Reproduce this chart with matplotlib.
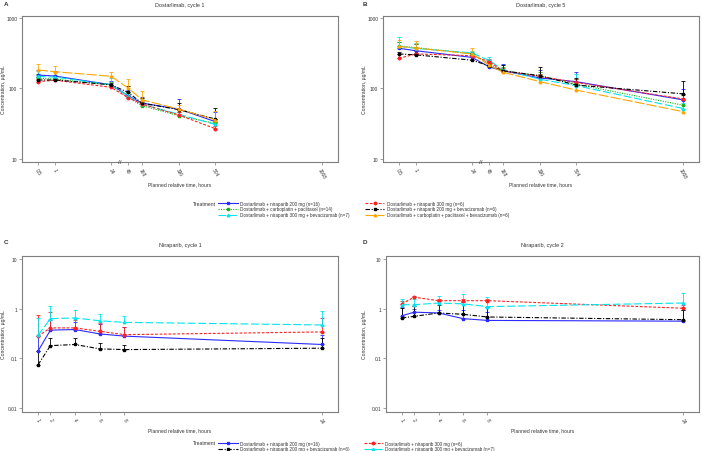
import numpy as np
import matplotlib
matplotlib.use("Agg")
import matplotlib.pyplot as plt
from matplotlib.transforms import blended_transform_factory

plt.rcParams['font.family'] = ['Liberation Sans', 'DejaVu Sans']

# ---------------- data ----------------
# dostarlimab sampling times (hours)
t_c1 = [0.5, 1, 24, 48, 168, 336, 504]
t_c5 = [0.5, 1, 24, 48, 168, 336, 504, 1008]
dost_ticks = [0.5, 1, 24, 48, 168, 336, 504, 1008]
dost_ticklabels = ['0.5', '1', '24', '48', '168', '336', '504', '1008']

# cycle 1 means / SD (ug/mL)
c1_nir200 = [155, 150, 113, 79, 62, 51, 34]
c1_nir200_sd = [25, 25, 15, 15, 14, 20, 12]
c1_cp = [140, 136, 112, 75, 57, 41, 32]
c1_cp_sd = [20, 20, 12, 10, 8, 6, 5]
c1_nir300bev = [148, 145, 113, 78, 60, 43, 31]
c1_nir300bev_sd = [30, 25, 30, 12, 10, 8, 6]
c1_nir300 = [125, 131, 104, 74, 60, 42, 27]
c1_nir300_sd = [10, 8, 6, 8, 6, 4, 2]
c1_nir200bev = [132, 132, 113, 88, 62, 50, 37]
c1_nir200bev_sd = [12, 10, 8, 20, 12, 12, 16]
c1_cpbev = [183, 173, 149, 102, 69, 51, 36]
c1_cpbev_sd = [36, 37, 21, 34, 24, 7, 12]

# cycle 5
c5_nir200 = [372, 343, 276, 203, 178, 141, 125, 69]
c5_nir200_sd = [90, 90, 40, 40, 45, 40, 45, 30]
c5_cp = [400, 380, 310, 225, 180, 150, 115, 58]
c5_cp_sd = [60, 50, 20, 30, 20, 20, 20, 10]
c5_nir300bev = [400, 370, 320, 250, 185, 135, 110, 52]
c5_nir300bev_sd = [130, 70, 20, 30, 30, 25, 50, 10]
c5_nir300 = [268, 309, 292, 240, 178, 148, 122, 71]
c5_nir300_sd = [40, 30, 20, 25, 15, 15, 15, 10]
c5_nir200bev = [309, 300, 252, 210, 178, 152, 112, 84]
c5_nir200bev_sd = [20, 20, 70, 30, 40, 50, 30, 42]
c5_cpbev = [395, 375, 310, 215, 170, 125, 95, 47]
c5_cpbev_sd = [100, 90, 60, 40, 20, 20, 15, 5]

# niraparib sampling times (hours)
t_nir = [1, 2, 4, 6, 8, 24]
nir_ticklabels = ['1', '2', '4', '6', '8', '24']

n1_nir200 = [0.14, 0.37, 0.38, 0.31, 0.28, 0.19]
n1_nir200_sd = [0.14, 0.23, 0.17, 0.17, 0.15, 0.11]
n1_nir300 = [0.28, 0.41, 0.41, 0.35, 0.30, 0.34]
n1_nir300_sd = [0.47, 0.46, 0.19, 0.17, 0.12, 0.31]
n1_nir200bev = [0.074, 0.18, 0.19, 0.155, 0.15, 0.16]
n1_nir200bev_sd = [0.066, 0.08, 0.07, 0.045, 0.035, 0.10]
n1_nir300bev = [0.29, 0.63, 0.65, 0.57, 0.53, 0.47]
n1_nir300bev_sd = [0.36, 0.49, 0.30, 0.21, 0.19, 0.41]

n2_nir200 = [0.72, 0.85, 0.82, 0.63, 0.58, 0.56]
n2_nir200_sd = [0.38, 0.15, 0.13, 0.32, 0.27, 0.39]
n2_nir300 = [1.25, 1.70, 1.45, 1.45, 1.45, 1.02]
n2_nir300_sd = [0.20, 0.10, 0.10, 0.10, 0.10, 0.18]
n2_nir200bev = [0.65, 0.70, 0.82, 0.77, 0.68, 0.60]
n2_nir200bev_sd = [0.40, 0.45, 0.38, 0.58, 0.42, 0.35]
n2_nir300bev = [1.20, 1.20, 1.30, 1.25, 1.10, 1.30]
n2_nir300bev_sd = [0.35, 0.35, 0.50, 0.75, 0.60, 0.75]

lab_nir200 = 'Dostarlimab + niraparib 200 mg (n=16)'
lab_cp = 'Dostarlimab + carboplatin + paclitaxel (n=14)'
lab_nir300bev = 'Dostarlimab + niraparib 300 mg + bevacizumab (n=7)'
lab_nir300 = 'Dostarlimab + niraparib 300 mg (n=6)'
lab_nir200bev = 'Dostarlimab + niraparib 200 mg + bevacizumab (n=6)'
lab_cpbev = 'Dostarlimab + carboplatin + paclitaxel + bevacizumab (n=6)'

# ---------------- styles ----------------
sty = {
    'nir200': dict(color='#2b2bff', ls='-', marker='s'),
    'cp': dict(color='#19b319', ls=(0, (1, 1.2)), marker='s'),
    'nir300bev': dict(color='#00e5ee', ls=(0, (7, 2.5)), marker='^'),
    'nir300': dict(color='#ff2020', ls=(0, (2.5, 1.5)), marker='o'),
    'nir200bev': dict(color='black', ls=(0, (4, 1.5, 1, 1.5)), marker='s'),
    'cpbev': dict(color='#ffa500', ls=(0, (9, 2)), marker='^'),
}
GREY = '#7f7f7f'
TXT = '#333333'
FS = 4.0


def series(ax, x, y, sd, key, label):
    s = sty[key]
    y = np.asarray(y, float)
    sd = np.asarray(sd, float)
    ax.errorbar(x, y, yerr=[np.zeros_like(sd), sd], color=s['color'],
                ls='none', elinewidth=0.6, capsize=1.6, capthick=0.6, zorder=2)
    h, = ax.plot(x, y, color=s['color'], ls=s['ls'], lw=0.8,
                 marker=s['marker'], ms=1.8, label=label, zorder=3)
    return h


# piecewise time scale for dostarlimab panels (broken axis after 24 h)
knot_t = [0.1, 0.5, 1, 24, 48, 168, 336, 504, 1008, 1083]
knot_p = [0, 16, 33, 89, 106, 120, 157, 193, 300, 316]


def fwd(t):
    return np.interp(t, knot_t, knot_p)


def inv(p):
    return np.interp(p, knot_p, knot_t)


W, H = 702, 452
fig = plt.figure(figsize=(W / 100, H / 100), dpi=100)


def axes_px(l, t, r, b):
    return fig.add_axes([l / W, 1 - b / H, (r - l) / W, (b - t) / H])


def style_axes(ax, title, yt, ytl, ylim, ylab_px):
    ax.set_yscale('log')
    ax.set_ylim(*ylim)
    ax.yaxis.set_major_locator(matplotlib.ticker.FixedLocator(yt))
    ax.yaxis.set_minor_locator(matplotlib.ticker.NullLocator())
    ax.set_yticklabels(ytl)
    for sp in ax.spines.values():
        sp.set_color(GREY)
        sp.set_linewidth(0.8)
    ax.tick_params(axis='both', length=2, width=0.5, color=GREY,
                   labelsize=3.5, labelcolor=TXT, pad=1.5)
    for lab in ax.get_xticklabels():
        lab.set_rotation(-60)
        lab.set_ha('center')
        lab.set_va('top')
    ax.set_title(title, fontsize=FS, color=TXT, pad=7)
    ax.set_ylabel('Concentration, \u00b5g/mL', fontsize=3.6, color=TXT)
    ax.set_xlabel('Planned relative time, hours', fontsize=3.6, color=TXT)
    bb = ax.get_position()
    ax.yaxis.set_label_coords((ylab_px / W - bb.x0) / bb.width, 0.5)
    ax.xaxis.set_label_coords(0.5, -0.135)


axA = axes_px(22, 17, 338, 163)
axB = axes_px(383, 17, 699, 163)
axC = axes_px(22, 257, 338, 413)
axD = axes_px(386, 257, 699, 413)

# ----- A & B -----
hA = []
for ax, t, d in [
    (axA, t_c1, [(c1_nir200, c1_nir200_sd, 'nir200', lab_nir200),
                 (c1_cp, c1_cp_sd, 'cp', lab_cp),
                 (c1_nir300bev, c1_nir300bev_sd, 'nir300bev', lab_nir300bev),
                 (c1_nir300, c1_nir300_sd, 'nir300', lab_nir300),
                 (c1_nir200bev, c1_nir200bev_sd, 'nir200bev', lab_nir200bev),
                 (c1_cpbev, c1_cpbev_sd, 'cpbev', lab_cpbev)]),
    (axB, t_c5, [(c5_nir200, c5_nir200_sd, 'nir200', lab_nir200),
                 (c5_cp, c5_cp_sd, 'cp', lab_cp),
                 (c5_nir300bev, c5_nir300bev_sd, 'nir300bev', lab_nir300bev),
                 (c5_nir300, c5_nir300_sd, 'nir300', lab_nir300),
                 (c5_nir200bev, c5_nir200bev_sd, 'nir200bev', lab_nir200bev),
                 (c5_cpbev, c5_cpbev_sd, 'cpbev', lab_cpbev)]),
]:
    ax.set_xscale('function', functions=(fwd, inv))
    hs = [series(ax, t, y, sd, k, lab) for y, sd, k, lab in d]
    if not hA:
        hA = hs
    ax.set_xlim(0.1, 1083)
    ax.set_xticks(dost_ticks)
    ax.set_xticklabels(dost_ticklabels)
    ax.xaxis.set_minor_locator(matplotlib.ticker.NullLocator())
    tr = blended_transform_factory(ax.transData, ax.transAxes)
    ax.text(36, 0.0, '//', transform=tr, ha='center', va='center',
            fontsize=4.5, color=TXT, clip_on=False)

style_axes(axA, 'Dostarlimab, cycle 1', [10, 100, 1000], ['10', '100', '1000'], (9.06, 1067), 6)
style_axes(axB, 'Dostarlimab, cycle 5', [10, 100, 1000], ['10', '100', '1000'], (9.06, 1067), 367)

# ----- C & D -----
hC = []
for ax, d in [
    (axC, [(n1_nir200, n1_nir200_sd, 'nir200', lab_nir200),
           (n1_nir200bev, n1_nir200bev_sd, 'nir200bev', lab_nir200bev),
           (n1_nir300, n1_nir300_sd, 'nir300', lab_nir300),
           (n1_nir300bev, n1_nir300bev_sd, 'nir300bev', lab_nir300bev)]),
    (axD, [(n2_nir200, n2_nir200_sd, 'nir200', lab_nir200),
           (n2_nir200bev, n2_nir200bev_sd, 'nir200bev', lab_nir200bev),
           (n2_nir300, n2_nir300_sd, 'nir300', lab_nir300),
           (n2_nir300bev, n2_nir300bev_sd, 'nir300bev', lab_nir300bev)]),
]:
    hs = [series(ax, t_nir, y, sd, k, lab) for y, sd, k, lab in d]
    if not hC:
        hC = hs
    ax.set_xlim(-0.3, 25.3)
    ax.set_xticks(t_nir)
    ax.set_xticklabels(nir_ticklabels)

yt_n = [0.01, 0.1, 1, 10]
ytl_n = ['0.01', '0.1', '1', '10']
style_axes(axC, 'Niraparib, cycle 1', yt_n, ytl_n, (0.0083, 11.5), 6)
style_axes(axD, 'Niraparib, cycle 2', yt_n, ytl_n, (0.0083, 11.5), 367)
axC.xaxis.set_label_coords(0.5, -0.095)
axD.xaxis.set_label_coords(0.5, -0.095)

# panel letters
for x, y, s in [(4, 5, 'A'), (363, 5, 'B'), (4, 243, 'C'), (363, 243, 'D')]:
    fig.text(x / W, 1 - y / H, s, fontsize=4.5, fontweight='bold', color=TXT,
             ha='left', va='center')

# legends
fig.text(193 / W, 1 - 205 / H, 'Treatment', fontsize=3.6, color=TXT, ha='left', va='center')
fig.legend(hA, [h.get_label() for h in hA], ncol=2, loc='upper left',
           bbox_to_anchor=(216 / W, 1 - 199.5 / H), frameon=False, fontsize=3.3,
           handlelength=4.2, handletextpad=0.5, columnspacing=3.4,
           labelspacing=0.15, borderpad=0, labelcolor=TXT)

fig.text(193 / W, 1 - 444 / H, 'Treatment', fontsize=3.6, color=TXT, ha='left', va='center')
fig.legend(hC, [h.get_label() for h in hC], ncol=2, loc='upper left',
           bbox_to_anchor=(216 / W, 1 - 439.5 / H), frameon=False, fontsize=3.3,
           handlelength=4.2, handletextpad=0.5, columnspacing=3.1,
           labelspacing=0.15, borderpad=0, labelcolor=TXT)

fig.savefig('out.png', dpi=100)
